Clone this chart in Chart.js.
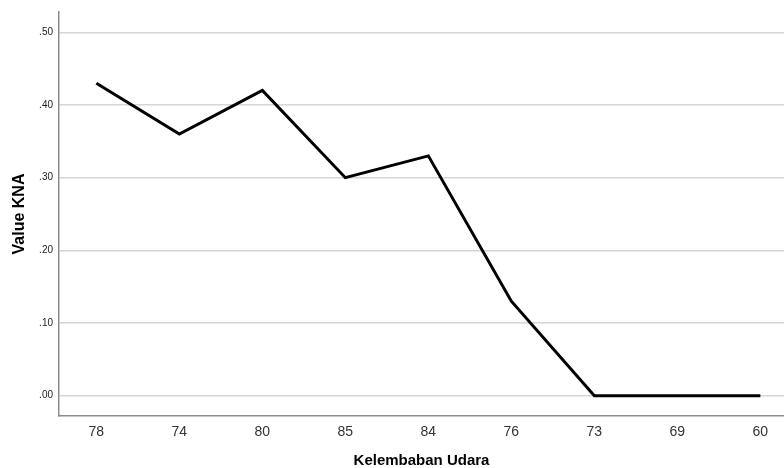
<!DOCTYPE html>
<html>
<head>
<meta charset="utf-8">
<script src="https://cdn.jsdelivr.net/npm/chart.js@4"></script>
<style>
  html, body { margin: 0; padding: 0; background: #fff; }
  canvas { display: block; }
</style>
</head>
<body>
<canvas id="chart" width="784" height="468"></canvas>
<script>
const kelembaban = ["78", "74", "80", "85", "84", "76", "73", "69", "60"]
const valueKNA = [0.43, 0.36, 0.42, 0.30, 0.33, 0.13, 0.00, 0.00, 0.00]
const yTicks = [0, 0.1, 0.2, 0.3, 0.4, 0.5]

const fontFamily = "Arial, 'Liberation Sans', sans-serif"

function renderKnaChart(canvasId) {
    const target = document.getElementById(canvasId)
    if (!target) return null

    return new Chart(target, {
        type: "line",
        data: {
            datasets: [{
                label: "Value KNA",
                data: valueKNA.map((v, i) => ({ x: i, y: v })),
                borderColor: "#000",
                borderWidth: 3,
                pointRadius: 0,
                tension: 0,
                fill: false
            }]
        },
        options: {
            responsive: false,
            animation: false,
            layout: { padding: { top: 12, right: 0, left: 0, bottom: 0 } },
            plugins: {
                legend: { display: false },
                tooltip: { enabled: false }
            },
            scales: {
                x: {
                    type: "linear",
                    min: -0.45,
                    max: 8.285,
                    afterBuildTicks: scale => {
                        scale.ticks = kelembaban.map((_, i) => ({ value: i }))
                    },
                    afterFit: scale => { scale.height = 52 },
                    grid: { display: false, drawTicks: false },
                    border: { display: true, color: "#8c8c8c", width: 1.5 },
                    ticks: {
                        autoSkip: false,
                        maxRotation: 0,
                        padding: 8,
                        color: "#333",
                        font: { family: fontFamily, size: 14 },
                        callback: v => Number.isInteger(v) ? kelembaban[v] : ""
                    },
                    title: {
                        display: true,
                        text: "Kelembaban Udara",
                        color: "#000",
                        padding: { top: 0, bottom: -2 },
                        font: { family: fontFamily, size: 15, weight: "bold" }
                    }
                },
                y: {
                    min: -0.028,
                    max: 0.528,
                    afterBuildTicks: scale => {
                        scale.ticks = yTicks.map(v => ({ value: v }))
                    },
                    afterFit: scale => { scale.width = 59 },
                    grid: { color: "#d6d6d6", lineWidth: 1.5, drawTicks: false },
                    border: { display: true, color: "#8c8c8c", width: 1.5 },
                    ticks: {
                        padding: 6,
                        color: "#222",
                        font: { family: fontFamily, size: 10 },
                        callback: v => v.toFixed(2).replace(/^0/, "")
                    },
                    title: {
                        display: true,
                        text: "Value KNA",
                        color: "#000",
                        padding: { top: 10, bottom: 0 },
                        font: { family: fontFamily, size: 16, weight: "bold" }
                    }
                }
            }
        }
    })
}

renderKnaChart("chart")
</script>
</body>
</html>
